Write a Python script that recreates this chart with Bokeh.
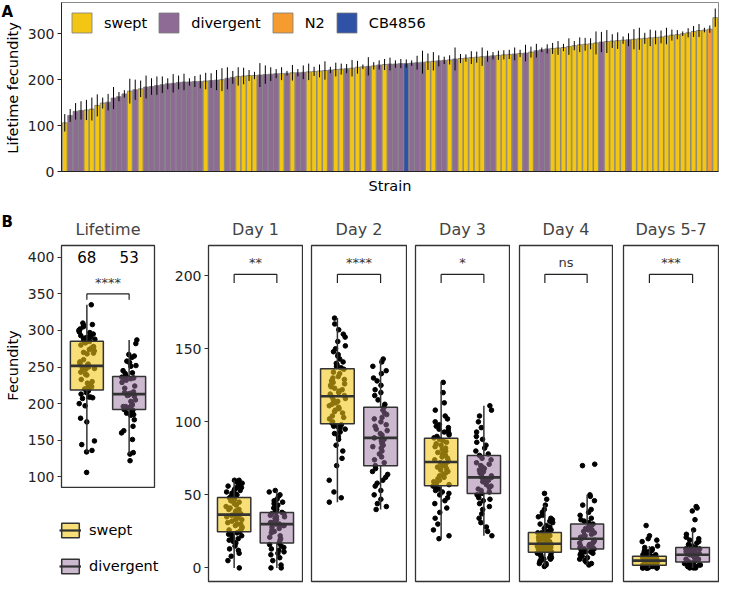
import numpy as np
from bokeh.plotting import figure
from bokeh.models import ColumnDataSource, Legend, LegendItem, Title, FixedTicker, Range1d
from bokeh.layouts import column, row
from bokeh.transform import jitter
from bokeh.embed import file_html
from bokeh.resources import INLINE
from bokeh.core.properties import value

FONT = "DejaVu Sans"

# ---------------- data: panel A (strains sorted by lifetime fecundity) ----------------
strain_lifetime = [
    106, 122, 131, 133, 134, 136, 144, 149, 151, 160,
    163, 169, 175, 178, 180, 184, 185, 187, 189, 191,
    192, 194, 195, 195, 196, 196, 197, 198, 199, 200,
    203, 205, 207, 208, 209, 209, 210, 211, 212, 213,
    213, 214, 215, 215, 216, 217, 218, 219, 220, 221,
    222, 223, 224, 225, 227, 228, 229, 230, 232, 233,
    234, 234, 235, 235, 236, 237, 238, 239, 240, 241,
    242, 243, 245, 246, 247, 248, 249, 250, 251, 252,
    253, 254, 255, 256, 257, 258, 260, 263, 265, 267,
    268, 269, 270, 272, 274, 276, 277, 278, 280, 282,
    283, 284, 285, 286, 287, 288, 289, 290, 291, 292,
    293, 295, 297, 298, 300, 302, 305, 307, 308, 310,
    335,
]
strain_err = [
    19, 14, 18, 20, 22, 25, 24, 12, 18, 24,
    10, 8, 27, 22, 18, 25, 18, 20, 18, 12,
    20, 15, 18, 8, 12, 15, 18, 16, 22, 25,
    24, 14, 20, 18, 12, 8, 26, 20, 15, 10,
    14, 5, 17, 8, 15, 18, 10, 14, 20, 7,
    15, 12, 10, 18, 14, 5, 20, 8, 10, 12,
    14, 8, 10, 9, 6, 15, 25, 18, 20, 12,
    8, 10, 25, 10, 8, 14, 12, 20, 12, 8,
    10, 10, 10, 14, 8, 18, 12, 15, 5, 10,
    12, 15, 8, 18, 10, 16, 14, 12, 25, 22,
    25, 15, 18, 8, 14, 22, 24, 12, 18, 15,
    14, 18, 12, 10, 5, 10, 12, 14, 5, 8,
    20,
]
# S = swept, D = divergent, N = N2, C = CB4856
strain_group_codes = ("SDDDSSSSDD" "DDSDSDDDDD" "DDDDDDSDDS" "DDSSSSDDDD"
                      "SDSDDSSSSD" "SSDSSSDSDS" "DDDCDDDSSD" "DSDSSSSSDD"
                      "SSSDSDSDDD" "SSSSSSSSSD" "SSSSDSSSSS" "SSSSSSSSSN" "S")
group_names = {"S": "swept", "D": "divergent", "N": "N2", "C": "CB4856"}
legend_order = ["swept", "divergent", "N2", "CB4856"]
bar_colors = {"swept": "#F3C614", "divergent": "#8E6B94", "N2": "#F59B30", "CB4856": "#2F52A6"}
lifetime_ticks = [0, 100, 200, 300]

# ---------------- data: panel B (per-day fecundity) ----------------
day_titles = ["Day 1", "Day 2", "Day 3", "Day 4", "Days 5-7"]
day1_swept = [0, 5, 8, 10, 12, 13, 15, 17, 18, 19, 20, 21, 22, 23, 23, 24, 24,
              25, 26, 27, 28, 29, 30, 30, 31, 32, 33, 33, 34, 35, 35, 36, 36, 36,
              37, 38, 38, 39, 40, 40, 41, 42, 43, 44, 45, 46, 46, 47, 48, 48, 48,
              49, 50, 50, 51, 52, 53, 53, 54, 55, 55, 56, 57, 57, 58, 59, 60, 60]
day1_divergent = [0, 0, 2, 5, 7, 9, 10, 11, 12, 13, 14, 15, 16,
                  17, 19, 20, 21, 22, 24, 25, 26, 27, 28, 29, 29, 30, 30,
                  31, 31, 32, 33, 33, 34, 35, 35, 36, 37, 37, 38, 38,
                  39, 40, 41, 42, 43, 44, 45, 46, 47, 49, 50, 52, 53]
day2_swept = [45, 48, 52, 60, 70, 75, 80, 84, 88, 90, 92, 93, 95, 96, 97, 97, 98,
              99, 100, 102, 103, 104, 106, 107, 108, 109, 110, 111, 112, 113, 114, 115, 116, 117,
              118, 119, 120, 121, 122, 123, 124, 125, 126, 127, 128, 129, 130, 131, 133, 134, 136,
              137, 138, 139, 140, 141, 143, 145, 146, 148, 150, 152, 155, 158, 160, 163, 167, 171]
day2_divergent = [40, 42, 44, 47, 50, 53, 56, 58, 60, 62, 64, 66, 68,
                  70, 72, 74, 76, 78, 80, 82, 83, 84, 85, 86, 87, 88, 89,
                  91, 92, 94, 95, 97, 98, 100, 102, 103, 105, 106, 108, 110,
                  112, 115, 118, 120, 122, 125, 128, 130, 133, 135, 138, 141, 143]
day3_swept = [20, 22, 26, 30, 34, 38, 41, 44, 46, 48, 50, 51, 52, 53, 54, 55, 56,
              57, 58, 59, 60, 61, 62, 63, 64, 65, 66, 67, 68, 69, 70, 71, 72,
              73, 74, 75, 76, 77, 78, 79, 80, 81, 82, 83, 84, 85, 86, 87, 88,
              89, 90, 91, 92, 93, 94, 95, 96, 97, 98, 100, 102, 104, 108, 113, 120, 127]
day3_divergent = [22, 25, 28, 31, 34, 37, 40, 42, 44, 46, 47, 48, 50,
                  51, 52, 53, 54, 55, 56, 57, 58, 59, 60, 60, 61, 62, 62,
                  63, 64, 65, 66, 67, 68, 69, 70, 71, 72, 74, 75, 77,
                  78, 80, 82, 84, 86, 88, 90, 93, 96, 100, 104, 108, 111]
day4_swept = [1, 2, 3, 3, 4, 5, 5, 6, 6, 7, 7, 8, 8, 9, 9, 10, 10,
              11, 11, 12, 12, 12, 13, 13, 14, 14, 14, 15, 15, 15, 16, 16, 16, 16,
              17, 17, 18, 18, 19, 19, 20, 20, 21, 21, 22, 22, 23, 23, 24, 24, 24,
              25, 26, 27, 28, 29, 30, 31, 32, 33, 34, 35, 36, 38, 40, 43, 47, 51]
day4_divergent = [2, 3, 4, 5, 6, 7, 8, 9, 10, 10, 11, 11, 12,
                  13, 13, 14, 14, 15, 15, 16, 16, 17, 17, 18, 18, 19, 20,
                  21, 22, 22, 23, 24, 25, 26, 26, 27, 28, 29, 29, 30,
                  31, 32, 33, 34, 36, 38, 40, 43, 46, 49, 50, 70, 71]
day5_swept = [0, 0, 0, 0, 0, 0, 0, 0, 1, 1, 1, 1, 1, 1, 1, 1, 1,
              2, 2, 2, 3, 3, 3, 3, 4, 4, 4, 4, 4, 5, 5, 5, 5, 5,
              5, 6, 6, 6, 6, 6, 7, 7, 7, 7, 7, 7, 8, 8, 8, 8, 8,
              8, 9, 9, 10, 10, 11, 11, 12, 12, 13, 14, 15, 18, 19, 20, 22, 29]
day5_divergent = [0, 0, 0, 1, 1, 1, 2, 2, 2, 3, 3, 3, 4,
                  4, 5, 5, 5, 6, 6, 6, 7, 7, 7, 8, 8, 8, 9,
                  9, 10, 10, 10, 11, 11, 12, 12, 12, 13, 13, 13, 14,
                  15, 16, 17, 18, 19, 20, 21, 23, 26, 33, 39, 41, 42]
day_swept = [day1_swept, day2_swept, day3_swept, day4_swept, day5_swept]
day_divergent = [day1_divergent, day2_divergent, day3_divergent, day4_divergent, day5_divergent]
day_signif = ["**", "****", "*", "ns", "***"]
lifetime_signif = "****"
box_groups = ["swept", "divergent"]
box_fill = {"swept": "#F3C614", "divergent": "#9A72A0"}
box_alpha = {"swept": 0.58, "divergent": 0.5}
day_ticks = [0, 50, 100, 150, 200]
life_ticks = [100, 150, 200, 250, 300, 350, 400]


def strip(width, height, top, bottom):
    p = figure(width=width, height=height, x_range=Range1d(0, width),
               y_range=Range1d(0, height - top - bottom), output_backend="svg",
               toolbar_location=None, x_axis_location=None, y_axis_location=None,
               min_border_left=0, min_border_right=0, min_border_top=top, min_border_bottom=bottom)
    p.grid.visible = False
    p.outline_line_color = None
    return p


# ---------------- panel A ----------------
n = len(strain_lifetime)
groups = [group_names[c] for c in strain_group_codes]
xs = list(range(1, n + 1))
srcA = ColumnDataSource(dict(
    x=xs, top=strain_lifetime,
    lo=[v - e for v, e in zip(strain_lifetime, strain_err)],
    hi=[v + e for v, e in zip(strain_lifetime, strain_err)],
    color=[bar_colors[g] for g in groups], group=groups))

# left strip with the panel tag and the y-axis title
stripA = strip(22, 196, 2, 22)
stripA.text(x=[1], y=[171], text=["A"], text_font=value(FONT), text_font_size="15px",
            text_font_style="bold", text_align="left", text_baseline="top")
stripA.text(x=[12], y=[85], text=["Lifetime fecundity"], text_font=value(FONT),
            text_font_size="14.5px", angle=np.pi / 2, text_align="center", text_baseline="middle")

pA = figure(width=697, height=196, x_range=Range1d(0.4, n + 0.6), y_range=Range1d(0, 368),
            output_backend="svg", toolbar_location=None,
            min_border_left=39, min_border_right=1, min_border_top=2, min_border_bottom=22)
bars = pA.vbar(x="x", top="top", bottom=0, width=0.9, fill_color="color",
               line_color="#7a7a7a", line_alpha=0.8, line_width=1, source=srcA)
pA.segment(x0="x", x1="x", y0="lo", y1="hi", line_color="black", line_width=1, source=srcA)
pA.grid.visible = False
pA.outline_line_color = "#8a8a8a"
pA.outline_line_width = 1
pA.yaxis.ticker = FixedTicker(ticks=lifetime_ticks)
pA.xaxis.ticker = FixedTicker(ticks=[])
pA.xaxis.axis_label = "Strain"
for ax in (pA.xaxis[0], pA.yaxis[0]):
    ax.axis_label_text_font = FONT
    ax.axis_label_text_font_size = "14.5px"
    ax.axis_label_text_font_style = "normal"
    ax.axis_label_text_color = "black"
    ax.major_label_text_font = FONT
    ax.major_label_text_font_size = "14px"
    ax.major_label_text_color = "#222222"
    ax.major_tick_in = 0
    ax.major_tick_out = 4
    ax.minor_tick_line_color = None
    ax.axis_line_color = "#222222"
    ax.major_tick_line_color = "#222222"
pA.yaxis.major_label_standoff = 3
pA.xaxis.axis_label_standoff = 6
pA.xaxis.major_label_standoff = 0

legA = Legend(items=[LegendItem(label=g, renderers=[bars], index=groups.index(g)) for g in legend_order],
              orientation="horizontal", location="top_left", glyph_width=25, glyph_height=25,
              label_text_font=FONT, label_text_font_size="14.5px", label_text_color="black",
              label_standoff=10, spacing=9, padding=0, margin=8, border_line_color=None,
              background_fill_alpha=0.9)
pA.add_layout(legA)


# ---------------- panel B ----------------
def box_stats(vals):
    a = np.asarray(vals, dtype=float)
    q1, med, q3 = np.percentile(a, [25, 50, 75])
    iqr = q3 - q1
    lo = a[a >= q1 - 1.5 * iqr].min()
    hi = a[a <= q3 + 1.5 * iqr].max()
    return q1, med, q3, lo, hi


def box_panel(title, swept_vals, div_vals, yr, width, height, left_border, bottom_border,
              ticks, signif, br_y, br_drop, lab_off):
    p = figure(width=width, height=height, x_range=Range1d(0.4, 2.6), y_range=Range1d(*yr),
               output_backend="svg", toolbar_location=None, x_axis_location=None,
               y_axis_location="left" if ticks else None,
               min_border_left=left_border, min_border_right=1, min_border_top=49,
               min_border_bottom=bottom_border)
    p.grid.visible = False
    p.outline_line_color = "#333333"
    p.outline_line_width = 1.3
    p.title.text = title
    p.title.align = "center"
    p.title.text_font = FONT
    p.title.text_font_size = "16px"
    p.title.text_font_style = "normal"
    p.title.standoff = 14
    if ticks:
        ax = p.yaxis[0]
        ax.ticker = FixedTicker(ticks=ticks)
        ax.major_label_text_font = FONT
        ax.major_label_text_font_size = "14px"
        ax.major_label_text_color = "#222222"
        ax.major_label_standoff = 3
        ax.major_tick_in = 0
        ax.major_tick_out = 4
        ax.minor_tick_line_color = None
        ax.axis_line_color = None
        ax.major_tick_line_color = "#333333"
    pts_x, pts_y = [], []
    for k, vals in enumerate([swept_vals, div_vals]):
        pts_x += [k + 1] * len(vals)
        pts_y += list(vals)
    p.scatter(x=jitter("x", width=0.38), y="y", size=4.6, color="black",
              source=ColumnDataSource(dict(x=pts_x, y=pts_y)))
    st = [box_stats(v) for v in (swept_vals, div_vals)]
    bsrc = ColumnDataSource(dict(
        x=[1, 2], left=[0.61, 1.61], right=[1.39, 2.39],
        q1=[s[0] for s in st], med=[s[1] for s in st], q3=[s[2] for s in st],
        lo=[s[3] for s in st], hi=[s[4] for s in st],
        fill=[box_fill[g] for g in box_groups], alpha=[box_alpha[g] for g in box_groups]))
    p.segment(x0="x", x1="x", y0="q3", y1="hi", line_color="#333333", line_width=1.5, source=bsrc)
    p.segment(x0="x", x1="x", y0="lo", y1="q1", line_color="#333333", line_width=1.5, source=bsrc)
    p.quad(left="left", right="right", bottom="q1", top="q3", fill_color="fill",
           fill_alpha="alpha", line_color="#333333", line_width=1.5, source=bsrc)
    p.segment(x0="left", x1="right", y0="med", y1="med", line_color="#333333",
              line_width=2.6, source=bsrc)
    # significance bracket
    p.segment(x0=[1, 1, 2], x1=[2, 1, 2], y0=[br_y, br_y, br_y], y1=[br_y, br_y - br_drop, br_y - br_drop],
              line_color="#222222", line_width=1.2)
    p.text(x=[1.5], y=[br_y + lab_off], text=[signif], text_font=value(FONT), text_font_size="13px",
           text_align="center", text_baseline="bottom", text_color="#333333")
    return p, bsrc


swept_life = [v for v, g in zip(strain_lifetime, groups) if g in ("swept", "N2")]
div_life = [v for v, g in zip(strain_lifetime, groups) if g in ("divergent", "CB4856")]

# left strip for panel B: tag and y-axis title
stripB = strip(22, 388, 0, 0)
stripB.text(x=[1], y=[372], text=["B"], text_font=value(FONT), text_font_size="15px",
            text_font_style="bold", text_align="left", text_baseline="top")
stripB.text(x=[12], y=[219], text=["Fecundity"], text_font=value(FONT),
            text_font_size="14.5px", angle=np.pi / 2, text_align="center", text_baseline="middle")

pL, bsrcL = box_panel("Lifetime", swept_life, div_life, (85.4, 416), 138, 292, 39, 1, life_ticks,
                      lifetime_signif, 350, 8, 5)
pL.min_border_right = 6
pL.text(x=[1, 2], y=[400, 400], text=[str(len(swept_life)), str(len(div_life))],
        text_font=value(FONT), text_font_size="15px", text_align="center", text_baseline="middle")

# legend for the box plots (keys drawn from the lifetime box data)
pLeg = strip(138, 96, 0, 0)
kq = pLeg.quad(left="left", right="right", bottom="q1", top="q3", fill_color="fill",
               fill_alpha="alpha", line_color="#333333", line_width=1.5, source=bsrcL, visible=False)
km = pLeg.segment(x0="left", x1="right", y0="med", y1="med", line_color="#333333",
                  line_width=2.2, source=bsrcL, visible=False)
legB = Legend(items=[LegendItem(label=g, renderers=[kq, km], index=i) for i, g in enumerate(box_groups)],
              location=(37, 9), orientation="vertical", glyph_width=22, glyph_height=18,
              label_height=18, spacing=18,
              label_text_font=FONT, label_text_font_size="14.5px", label_text_color="black",
              label_standoff=8, padding=0, margin=0, border_line_color=None, background_fill_alpha=0)
pLeg.add_layout(legB)

widths = [143, 104, 103, 103, 106]
borders = [48, 8, 8, 9, 10]
day_figs = []
for i, t in enumerate(day_titles):
    p, _ = box_panel(t, day_swept[i], day_divergent[i], (-9.3, 220.7), widths[i], 388, borders[i], 3,
                     day_ticks if i == 0 else None, day_signif[i], 201, 6, 3)
    day_figs.append(p)

layout = column(row(stripA, pA),
                row(column(stripB), column(pL, row(pLeg)), *day_figs))
open("out.html", "w").write(file_html(layout, INLINE))
